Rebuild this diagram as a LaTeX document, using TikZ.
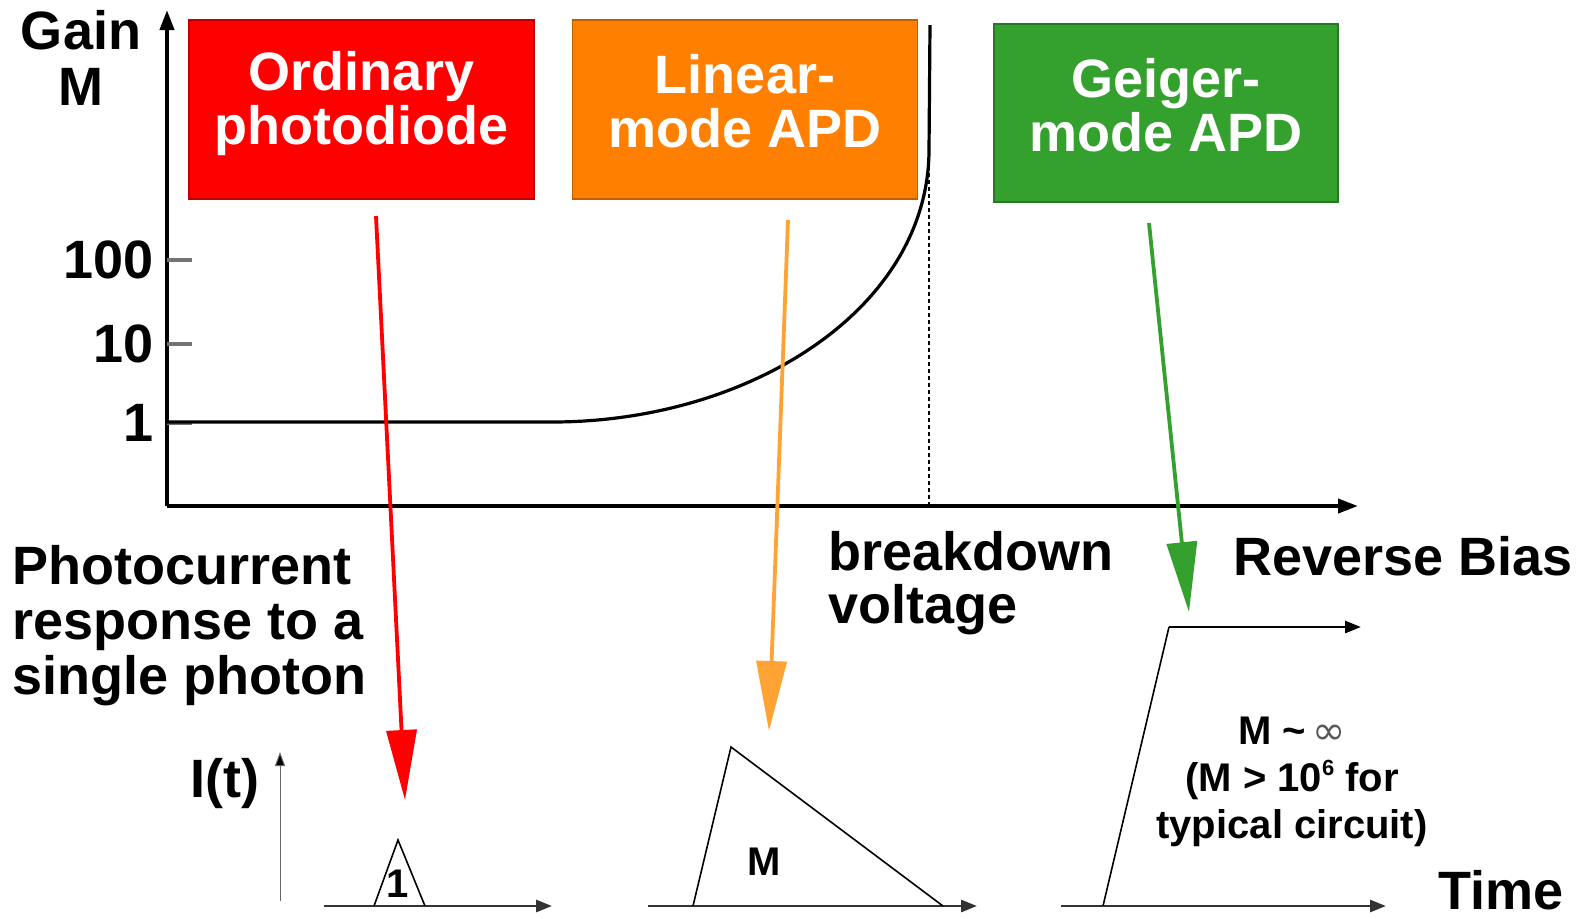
\documentclass[tikz,border=0pt]{standalone}
\usepackage{fontspec}
\setmainfont{Liberation Sans}
\newfontfamily\symfont{DejaVu Sans}
\usetikzlibrary{arrows.meta}
\definecolor{pdred}{RGB}{255,0,0}
\definecolor{apdorange}{RGB}{255,128,0}
\definecolor{arrorange}{RGB}{255,163,52}
\definecolor{geigergreen}{RGB}{52,160,45}
\tikzset{
  every node/.style={inner sep=0pt, font=\bfseries\fontsize{27}{27.5}\selectfont},
  smalltext/.style={font=\bfseries\fontsize{20}{23.5}\selectfont},
  modebox/.style={draw=#1!75!black, fill=#1, line width=0.6pt,
    minimum width=172.5pt, minimum height=89.5pt},
  boxtext/.style={text=white, align=center, font=\bfseries\fontsize{27}{27}\selectfont},
  mainaxis/.style={line width=2pt, -{Triangle[length=10pt,width=7pt]}},
  tickmark/.style={line width=1.6pt, black!55},
  gaincurve/.style={line width=1.6pt, line join=round},
  bdline/.style={line width=0.6pt, dash pattern=on 2pt off 1.5pt},
  modearrow/.style={draw=#1, line width=1.9pt,
    -{Triangle[length=35pt,width=15pt,fill=#1]}},
  timeaxis/.style={line width=1.4pt, black!80, -{Triangle[length=8pt,width=6pt]}},
  pulse/.style={line width=0.8pt, line join=miter},
  iaxis/.style={line width=0.5pt, black!60, -{Triangle[length=7pt,width=5pt,fill=black]}}
}
\begin{document}
\begin{tikzpicture}[x={(0.5pt,0)}, y={(0,-0.5pt)}]
\useasboundingbox (0,0) rectangle (1587,918);

% gain axes
\coordinate (origin) at (167,506);
\coordinate (ytop) at (167,10);
\coordinate (xend) at (1358,506);
\draw[mainaxis] (origin) -- (ytop);
\draw[mainaxis] (origin) -- (xend);
\node[align=center, font=\bfseries\fontsize{27}{28}\selectfont] (gain) at (81,58) {Gain\\M};

% decade ticks
\foreach \yy/\lab in {260/100, 344/10, 423/1} {
  \coordinate (t\lab) at (167,\yy);
  \draw[tickmark] (t\lab) -- ++(25,0);
  \node[anchor=east] (lab\lab) at (154,\yy) {\lab};
}

% gain versus reverse bias
\coordinate (g0) at (167,422);
\coordinate (g1) at (552,422);
\coordinate (knee) at (929,152);
\coordinate (gtop) at (930,25);
\coordinate (bd) at (929,506);
\draw[gaincurve] (g0) -- (g1) .. controls (749,422) and (927,310) .. (knee) -- (gtop);
\draw[bdline] (knee) -- (bd);

% operating regimes
\node[modebox=pdred] (pd) at (361.5,109.5) {};
\node[modebox=apdorange] (lin) at (745,109.5) {};
\node[modebox=geigergreen, minimum width=172pt, minimum height=89pt] (gm) at (1166,113) {};
\node[boxtext] (pdtext) at ([yshift=3pt]pd.center) {Ordinary\\photodiode};
\node[boxtext] (lintext) at ([yshift=4pt]lin.center) {Linear-\\mode APD};
\node[boxtext] (gmtext) at ([yshift=4pt]gm.center) {Geiger-\\mode APD};

% axis labels
\node[anchor=west, align=left, font=\bfseries\fontsize{27}{26.5}\selectfont] (bdlabel) at (828,583) {breakdown\\voltage};
\node[anchor=west] (rb) at (1233,556) {Reverse Bias};
\node[anchor=west, align=left] (resp) at (12,626) {Photocurrent\\response to a\\single photon};

% regime to response arrows
\coordinate (r1) at (376,216);
\coordinate (r2) at (405,800);
\coordinate (o1) at (788,220);
\coordinate (o2) at (769,731);
\coordinate (v1) at (1149,223);
\coordinate (v2) at (1189,612);
\draw[modearrow=pdred] (r1) -- (r2);
\draw[modearrow=arrorange] (o1) -- (o2);
\draw[modearrow=geigergreen] (v1) -- (v2);

% current axis
\coordinate (i0) at (280,901);
\coordinate (i1) at (280,752);
\draw[iaxis] (i0) -- (i1);
\node (it) at (225,784) {I(t)};

% time axes
\coordinate (a0) at (324,906);
\coordinate (a1) at (552,906);
\coordinate (b0) at (648,906);
\coordinate (b1) at (977,906);
\coordinate (c0) at (1061,906);
\coordinate (c1) at (1386,906);
\draw[timeaxis] (a0) -- (a1);
\draw[timeaxis] (b0) -- (b1);
\draw[timeaxis] (c0) -- (c1);
\node (time) at (1501,890) {Time};

% single photon responses
\coordinate (p1a) at (374,906);
\coordinate (p1b) at (398,840);
\coordinate (p1c) at (425,906);
\draw[pulse] (p1a) -- (p1b) -- (p1c);
\node[smalltext] (one) at (398,884) {1};

\coordinate (p2a) at (693,906);
\coordinate (p2b) at (731,747);
\coordinate (p2c) at (943,906);
\draw[pulse] (p2a) -- (p2b) -- (p2c);
\node[smalltext] (gainm) at (764,862) {M};

\coordinate (p3a) at (1103,906);
\coordinate (p3b) at (1169,627);
\coordinate (p3c) at (1361,627);
\draw[pulse] (p3a) -- (p3b);
\draw[line width=1.4pt, -{Triangle[length=8pt,width=6pt]}] (p3b) -- (p3c);
\node[smalltext, align=center] (inf) at (1292,782)
  {M \textasciitilde\,{\symfont\mdseries\color{black!65}∞}\\(M > 10\raisebox{0.4em}{\fontsize{11}{11}\selectfont 6} for\\typical circuit)};
\end{tikzpicture}
\end{document}
